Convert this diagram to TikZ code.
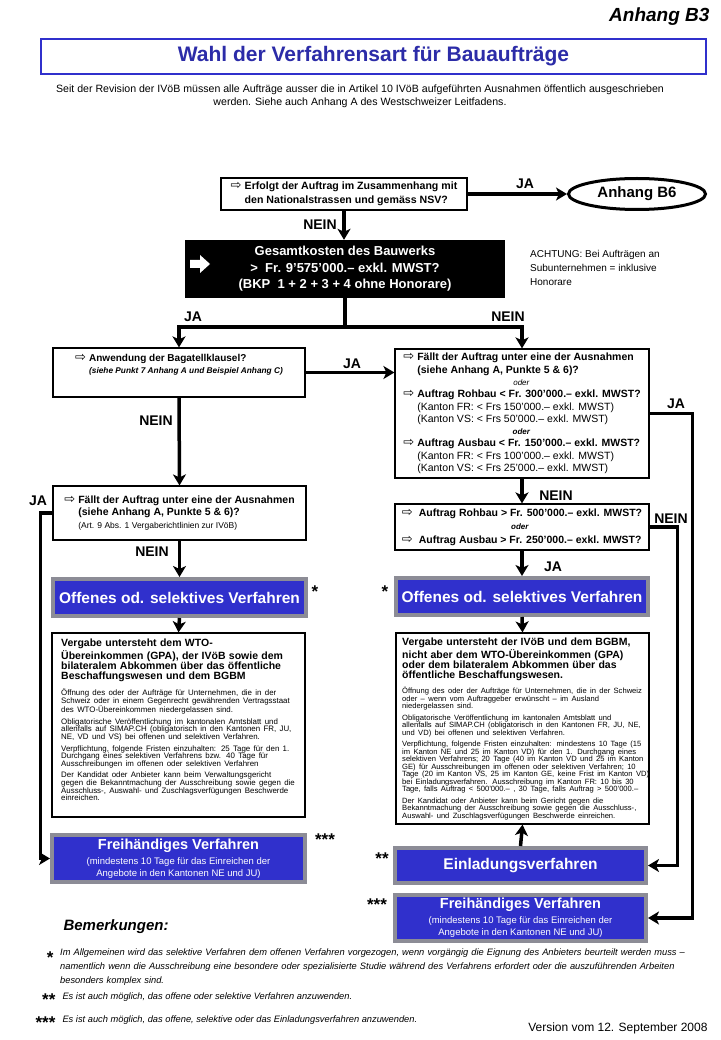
\documentclass[tikz,border=0pt]{standalone}
\usepackage{fontspec}
\setmainfont{Liberation Sans}
\newfontfamily\symfont{DejaVu Sans}
\usetikzlibrary{arrows.meta,shapes.geometric}

\definecolor{vblau}{RGB}{48,48,204}
\definecolor{tblau}{RGB}{44,44,168}
\definecolor{vgrau}{RGB}{140,140,150}

\newcommand{\pfeil}{\makebox[14pt][l]{\symfont\mdseries\fontsize{13}{12}\selectfont ⇨}}
\newcommand{\ein}{\hspace*{14pt}}
\newcommand{\klein}{\fontsize{7.9}{7.6}\selectfont}
\newcommand{\kleinR}{\fontsize{7.6}{7.5}\selectfont}
\newcommand{\kopf}{\bfseries\fontsize{10.5}{10}\selectfont}

\begin{document}
\begin{tikzpicture}[
    x=1pt, y=-1pt,
    frage/.style={draw, line width=1.2pt, fill=white, align=left, inner sep=0pt,
        font=\bfseries\fontsize{10.5}{12.3}\selectfont},
    verfahren/.style={draw=vgrau, line width=4pt, fill=vblau, text=white,
        align=center, inner sep=0pt, font=\bfseries\fontsize{15.5}{18}\selectfont},
    info/.style={draw, line width=1.2pt, inner sep=0pt},
    fliesstext/.style={anchor=north west, inner sep=0pt, text width=262pt, align=left},
    fluss/.style={line width=3.5pt, -{Stealth[length=11pt,width=13pt,inset=3pt]}},
    linie/.style={line width=3.5pt},
    antwort/.style={font=\bfseries\fontsize{14}{16}\selectfont},
    stern/.style={font=\bfseries\fontsize{17}{17}\selectfont}
]

\path[fill=white] (0,0) rectangle (720,1040);
\useasboundingbox (0,0) rectangle (720,1040);

\node[anchor=east, font=\bfseries\itshape\fontsize{19}{22}\selectfont] (anhang) at (713,17) {Anhang B3};
\node[draw=vblau, line width=2.5pt, minimum width=665, minimum height=35, text=tblau,
    font=\bfseries\fontsize{21}{24}\selectfont] (titel) at (373.5,56.5) {Wahl der Verfahrensart für Bauaufträge};
\node[align=center, font=\fontsize{10.6}{13}\selectfont] (einleitung) at (360,96)
    {Seit der Revision der IVöB müssen alle Aufträge ausser die in Artikel 10 IVöB aufgeführten Ausnahmen öffentlich ausgeschrieben\\
     werden. Siehe auch Anhang A des Westschweizer Leitfadens.};

\node[frage, minimum width=246, minimum height=32, font=\bfseries\fontsize{10.6}{14}\selectfont] (nsv) at (344,194)
    {\pfeil Erfolgt der Auftrag im Zusammenhang mit\\\ein den Nationalstrassen und gemäss NSV?};
\node[ellipse, draw, line width=3pt, minimum width=137, minimum height=31,
    font=\bfseries\fontsize{15}{18}\selectfont] (b6) at (637,194) {Anhang B6};

\node[fill=black, text=white, minimum width=320, minimum height=58, align=center,
    font=\bfseries\fontsize{13}{16.5}\selectfont] (kosten) at (345,269)
    {Gesamtkosten des Bauwerks\\>\ \ Fr. 9’575’000.– exkl. MWST?\\(BKP\ \ 1 + 2 + 3 + 4 ohne Honorare)};
\fill[white] (190,260) -- (200,260) -- (200,255) -- (210,264) -- (200,273) -- (200,268) -- (190,268) -- cycle;
\node[anchor=north west, align=left, inner sep=0pt, font=\fontsize{10}{14}\selectfont] (achtung) at (530,250)
    {ACHTUNG: Bei Aufträgen an\\Subunternehmen = inklusive\\Honorare};

\coordinate (teiler) at (345,327);

\node[frage, minimum width=252, minimum height=49, font=\bfseries\fontsize{10}{12}\selectfont] (bagatell) at (179,372.5)
    {\pfeil Anwendung der Bagatellklausel?\\\ein{\itshape\fontsize{8.3}{10}\selectfont (siehe Punkt 7 Anhang A und Beispiel Anhang C)}\\[5pt]\mbox{}};
\node[frage, minimum width=253, minimum height=54] (ausnahmeL) at (179.5,513)
    {\pfeil Fällt der Auftrag unter eine der Ausnahmen\\
     \ein(siehe Anhang A, Punkte 5 \& 6)?\\
     \ein{\mdseries\fontsize{8.5}{10}\selectfont (Art. 9 Abs. 1 Vergaberichtlinien zur IVöB)}};

\node[frage, minimum width=254, minimum height=129] (ausnahmeR) at (522,413.5)
    {\pfeil Fällt der Auftrag unter eine der Ausnahmen\\
     \ein(siehe Anhang A, Punkte 5 \& 6)?\\
     \makebox[236pt]{\mdseries\itshape\fontsize{8}{10}\selectfont oder}\\
     \pfeil Auftrag Rohbau < Fr. 300’000.– exkl. MWST?\\
     \ein\mdseries(Kanton FR: < Frs 150’000.– exkl. MWST)\\
     \ein\mdseries(Kanton VS: < Frs 50’000.– exkl. MWST)\\
     \makebox[236pt]{\itshape\fontsize{8}{10}\selectfont oder}\\
     \pfeil Auftrag Ausbau < Fr. 150’000.– exkl. MWST?\\
     \ein\mdseries(Kanton FR: < Frs 100’000.– exkl. MWST)\\
     \ein\mdseries(Kanton VS: < Frs 25’000.– exkl. MWST)};
\node[frage, minimum width=254, minimum height=46, font=\bfseries\fontsize{10.5}{13.5}\selectfont] (schwelle) at (522,527)
    {\pfeil\ Auftrag Rohbau > Fr. 500’000.– exkl. MWST?\\
     \makebox[236pt]{\itshape\fontsize{8}{10}\selectfont oder}\\
     \pfeil\ Auftrag Ausbau > Fr. 250’000.– exkl. MWST?};

\node[verfahren, minimum width=253, minimum height=37] (offenL) at (179.5,597.5) {Offenes od. selektives Verfahren};
\node[verfahren, minimum width=252, minimum height=37] (offenR) at (522,596.5) {Offenes od. selektives Verfahren};

\node[info, minimum width=253, minimum height=184] (infoL) at (178.5,725) {};
\node[fliesstext] (infoLtxt) at (61,639) {%
    {\kopf Vergabe untersteht dem WTO-\\Übereinkommen (GPA), der IVöB sowie dem\\bilateralem Abkommen über das öffentliche\\Beschaffungswesen und dem BGBM\par}
    \vspace{7pt}
    {\klein Öffnung des oder der Aufträge für Unternehmen, die in der\\Schweiz oder in einem Gegenrecht gewährenden Vertragsstaat\\des WTO-Übereinkommen niedergelassen sind.\par}
    \vspace{4pt}
    {\klein Obligatorische Veröffentlichung im kantonalen Amtsblatt und\\allenfalls auf SIMAP.CH (obligatorisch in den Kantonen FR, JU,\\NE, VD und VS) bei offenen und selektiven Verfahren.\par}
    \vspace{4pt}
    {\klein Verpflichtung, folgende Fristen einzuhalten: 25 Tage für den 1.\\Durchgang eines selektiven Verfahrens bzw. 40 Tage für\\Ausschreibungen im offenen oder selektiven Verfahren\par}
    \vspace{4pt}
    {\klein Der Kandidat oder Anbieter kann beim Verwaltungsgericht\\gegen die Bekanntmachung der Ausschreibung sowie gegen die\\Ausschluss-, Auswahl- und Zuschlagsverfügungen Beschwerde\\einreichen.\par}};

\node[info, minimum width=253, minimum height=191] (infoR) at (522.5,728.5) {};
\node[fliesstext] (infoRtxt) at (402,638) {%
    {\kopf Vergabe untersteht der IVöB und dem BGBM,\\nicht aber dem WTO-Übereinkommen (GPA)\\oder dem bilateralem Abkommen über das\\öffentliche Beschaffungswesen.\par}
    \vspace{6pt}
    {\kleinR Öffnung des oder der Aufträge für Unternehmen, die in der Schweiz\\oder – wenn vom Auftraggeber erwünscht – im Ausland\\niedergelassen sind.\par}
    \vspace{4pt}
    {\kleinR Obligatorische Veröffentlichung im kantonalen Amtsblatt und\\allenfalls auf SIMAP.CH (obligatorisch in den Kantonen FR, JU, NE,\\und VD) bei offenen und selektiven Verfahren.\par}
    \vspace{4pt}
    {\kleinR Verpflichtung, folgende Fristen einzuhalten: mindestens 10 Tage (15\\im Kanton NE und 25 im Kanton VD) für den 1. Durchgang eines\\selektiven Verfahrens; 20 Tage (40 im Kanton VD und 25 im Kanton\\GE) für Ausschreibungen im offenen oder selektiven Verfahren; 10\\Tage (20 im Kanton VS, 25 im Kanton GE, keine Frist im Kanton VD)\\bei Einladungsverfahren. Ausschreibung im Kanton FR: 10 bis 30\\Tage, falls Auftrag < 500’000.– , 30 Tage, falls Auftrag > 500’000.–\par}
    \vspace{4pt}
    {\kleinR Der Kandidat oder Anbieter kann beim Gericht gegen die\\Bekanntmachung der Ausschreibung sowie gegen die Ausschluss-,\\Auswahl- und Zuschlagsverfügungen Beschwerde einreichen.\par}};

\node[verfahren, minimum width=253, minimum height=47, font=\bfseries\fontsize{14.5}{12}\selectfont] (freiL) at (178.5,858.5)
    {Freihändiges Verfahren\\[3pt]\mdseries\fontsize{9.5}{12}\selectfont (mindestens 10 Tage für das Einreichen der\\\mdseries\fontsize{9.5}{12}\selectfont Angebote in den Kantonen NE und JU)};
\node[verfahren, minimum width=251, minimum height=35] (einl) at (520.5,865.5) {Einladungsverfahren};
\node[verfahren, minimum width=251, minimum height=46, font=\bfseries\fontsize{14.5}{12}\selectfont] (freiR) at (520.5,918)
    {Freihändiges Verfahren\\[3pt]\mdseries\fontsize{9.5}{12}\selectfont (mindestens 10 Tage für das Einreichen der\\\mdseries\fontsize{9.5}{12}\selectfont Angebote in den Kantonen NE und JU)};

\draw[fluss] (nsv.east) -- (b6.west);
\node[antwort] (jaB6) at (525,184) {JA};
\draw[fluss] (nsv.south) -- (nsv.south |- kosten.north);
\node[antwort] (neinNsv) at (320,225) {NEIN};

\draw[linie] (kosten.south) -- (teiler);
\draw[fluss] (teiler) -| (bagatell.north);
\draw[fluss] (teiler) -| (ausnahmeR.north);
\node[antwort] (jaKosten) at (193,317) {JA};
\node[antwort] (neinKosten) at (508,317) {NEIN};

\draw[fluss] (bagatell.east) -- (bagatell.east -| ausnahmeR.west);
\node[antwort] (jaBagatell) at (352,364) {JA};
\draw[fluss] (bagatell.south) -- (ausnahmeL.north);
\node[antwort] (neinBagatell) at (156,421) {NEIN};
\draw[fluss] (ausnahmeL.south) -- (offenL.north);
\node[antwort] (neinAusnahmeL) at (152,552) {NEIN};
\draw[fluss] (ausnahmeL.west) -- ++(-12,0) |- (freiL.west);
\node[antwort] (jaAusnahmeL) at (38,501) {JA};
\draw[fluss] (offenL.south) -- (infoL.north);

\draw[fluss] (ausnahmeR.south) -- (schwelle.north);
\node[antwort] (neinAusnahmeR) at (556,496) {NEIN};
\draw[fluss] (ausnahmeR.east) -- ++(43,0) |- (freiR.east);
\node[antwort] (jaAusnahmeR) at (676,404) {JA};
\draw[fluss] (schwelle.east) -- ++(28,0) |- (einl.east);
\node[antwort] (neinSchwelle) at (671,519) {NEIN};
\draw[fluss] (schwelle.south) -- (offenR.north);
\node[antwort] (jaSchwelle) at (553,567) {JA};
\draw[fluss] (offenR.south) -- (infoR.north);
\draw[fluss] (einl.north) -- (infoR.south);

\node[stern] (sternOffenL) at (315,592) {*};
\node[stern] (sternOffenR) at (385,592) {*};
\node[stern] (sternFreiL) at (325,840) {***};
\node[stern] (sternEinl) at (382,859) {**};
\node[stern] (sternFreiR) at (377,905) {***};

\node[anchor=west, font=\bfseries\itshape\fontsize{15}{18}\selectfont] (bemerkungen) at (60,927) {Bemerkungen:};
\node[anchor=east, stern] (fn1stern) at (57,958) {*};
\node[fliesstext, text width=665pt, font=\itshape\fontsize{9.3}{14}\selectfont] (fn1) at (60,949)
    {Im Allgemeinen wird das selektive Verfahren dem offenen Verfahren vorgezogen, wenn vorgängig die Eignung des Anbieters beurteilt werden muss –\\
     namentlich wenn die Ausschreibung eine besondere oder spezialisierte Studie während des Verfahrens erfordert oder die auszuführenden Arbeiten\\
     besonders komplex sind.};
\node[anchor=east, stern] (fn2stern) at (59,1000) {**};
\node[anchor=west, font=\itshape\fontsize{9.3}{14}\selectfont] (fn2) at (59,997) {Es ist auch möglich, das offene oder selektive Verfahren anzuwenden.};
\node[anchor=east, stern] (fn3stern) at (59,1023) {***};
\node[anchor=west, font=\itshape\fontsize{9.3}{14}\selectfont] (fn3) at (59,1020) {Es ist auch möglich, das offene, selektive oder das Einladungsverfahren anzuwenden.};
\node[anchor=east, font=\fontsize{12}{14}\selectfont] (version) at (711,1028) {Version vom 12. September 2008};

\end{tikzpicture}
\end{document}
